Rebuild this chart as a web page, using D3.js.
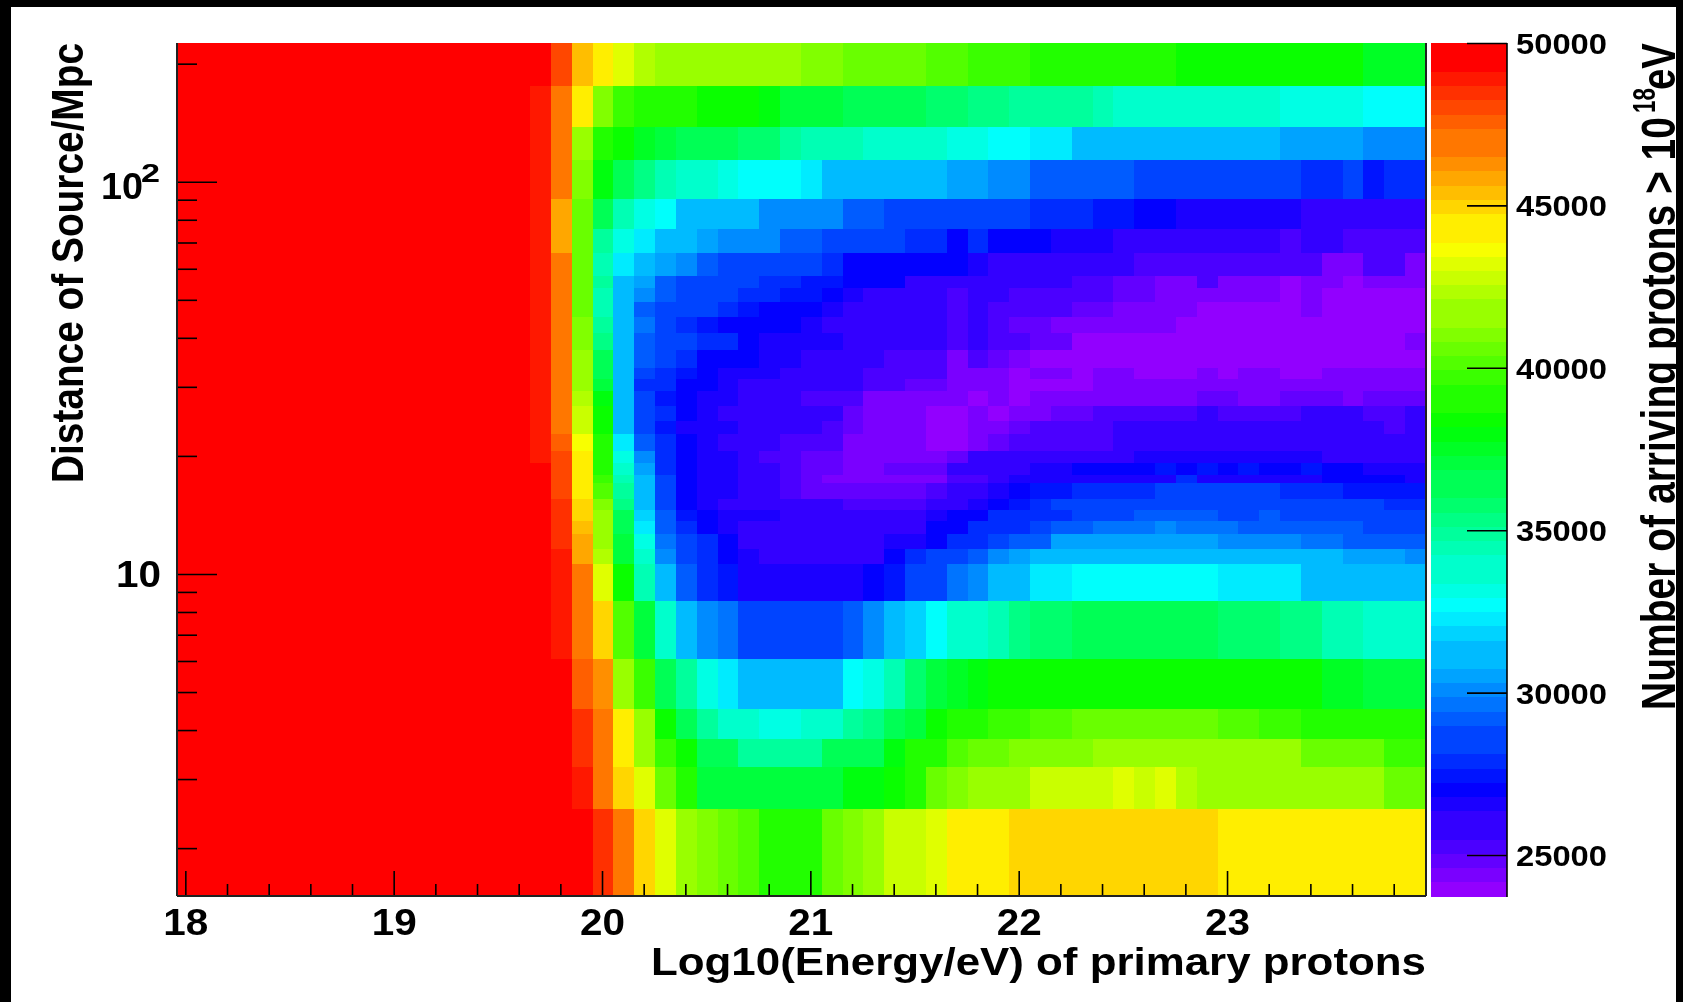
<!DOCTYPE html>
<html>
<head>
<meta charset="utf-8">
<title>Arriving protons</title>
<script src="https://cdnjs.cloudflare.com/ajax/libs/d3/7.8.5/d3.min.js"></script>
<style>
html, body { margin: 0; padding: 0; background: #000; }
svg { display: block; filter: blur(0.5px); }
text { font-family: "Liberation Sans", Arial, sans-serif; font-weight: bold; fill: #000; }
</style>
</head>
<body>
<div id="chart"></div>
<script>
// row edges in Mpc, top of the plot to the bottom
const distanceEdges = [225.8, 175.4, 137.8, 113.6, 90.3, 75.8, 65.8, 57.5, 53.6, 49.4, 45.2, 41.2, 37.2, 33.5, 31.4, 29.3, 26.8, 24.5,
    22.75, 20.6, 19.2, 17.9, 17.06, 15.5, 14.56, 13.65, 12.65, 11.58, 10.6, 8.53, 6.07, 4.53, 3.80, 3.22, 2.52, 1.51];

// how many columns on the left of each row are saturated at 50 (thousand)
const saturatedCols = [18, 17, 17, 17, 17, 17, 17, 17, 17, 17, 17, 17, 17, 17, 17, 17, 17, 17, 17, 17,
    18, 18, 18, 18, 18, 18, 18, 18, 18, 18, 19, 19, 19, 19, 20];

// my hue-to-count reading came out about 300 too high against the colour bar
const readingOffset = -0.3;

// arriving protons in thousands, continuing after the saturated columns
const arrivingKilo = [
    [48.3,45.6,44.8,43.5,42.8,42.3,42.3,41.9,41.9,41.9,41.9,41.9,41.5,41.5,40.8,40.8,40.8,40.8,40.4,40.4,40.0,40.0,40.0,39.3,39.3,39.3,39.3,39.3,39.3,39.3,38.8,38.8,38.8,38.8,38.8,38.7,38.7,38.7,38.7,37.9,37.9,37.9],
    [49.0,47.2,44.2,41.2,40.0,39.3,39.3,39.3,38.8,38.5,38.5,38.3,37.5,37.5,37.5,36.8,36.8,36.8,36.8,36.1,36.1,35.5,35.5,35.1,35.1,35.1,35.1,34.8,34.0,34.0,34.0,34.0,34.0,34.0,34.0,34.0,33.3,33.3,33.3,33.3,32.9,32.9,32.9],
    [49.0,47.2,42.3,39.7,38.5,37.8,37.4,37.1,37.1,36.6,36.1,36.1,35.2,34.8,34.8,34.8,34.0,34.0,34.0,34.0,33.3,33.4,32.9,32.9,32.4,32.4,31.8,31.8,31.8,31.3,31.3,31.3,31.3,31.3,31.3,31.3,30.8,30.8,30.8,30.8,30.2,30.2,30.2],
    [49.0,46.8,41.5,38.2,37.1,35.6,34.8,34.0,34.0,33.3,32.9,32.9,32.9,32.4,31.8,31.8,31.3,31.3,31.3,31.3,30.8,30.8,30.2,30.2,29.7,29.7,29.7,29.7,29.4,28.8,28.8,28.8,28.8,28.8,28.8,28.8,28.8,28.4,28.4,28.8,27.7,28.1,28.1],
    [49.0,46.0,40.8,36.4,34.8,33.6,32.9,31.8,31.8,31.1,31.1,30.4,30.4,30.2,30.2,29.7,29.7,29.2,29.2,28.8,28.8,29.0,29.0,29.0,28.4,28.4,28.4,27.7,27.7,27.3,27.3,26.8,26.8,26.8,26.8,26.8,26.8,26.3,26.3,26.3,26.3,26.3,26.3],
    [49.0,46.0,40.8,35.2,33.6,32.4,31.3,31.3,30.8,30.2,30.2,30.2,29.4,29.4,28.8,28.8,28.8,28.8,28.3,28.3,27.3,28.0,27.3,27.3,27.3,26.8,26.8,26.8,26.3,26.3,26.3,26.3,26.3,26.3,26.3,26.3,25.6,26.3,26.3,25.7,25.7,25.7,25.7],
    [49.0,46.8,40.8,34.8,32.4,31.3,30.8,30.2,29.7,29.2,29.2,28.8,28.8,28.8,28.0,27.5,27.5,27.5,27.3,27.3,27.3,27.0,26.4,26.4,26.4,26.4,26.4,26.4,26.4,25.7,25.7,25.7,25.4,25.4,25.4,25.4,25.4,25.4,24.7,24.7,25.4,25.4,24.7],
    [49.0,46.8,40.8,35.2,31.8,30.8,29.7,29.2,29.2,28.8,28.8,28.1,28.1,27.7,27.7,27.3,27.3,27.3,26.6,26.6,26.0,26.3,26.3,26.3,26.3,26.3,25.6,25.6,25.1,25.1,24.6,24.6,25.4,24.7,24.7,24.7,24.2,24.9,24.9,24.4,24.7,24.7,24.7],
    [49.0,46.8,40.8,34.6,31.3,30.2,29.4,28.8,28.8,28.8,28.0,28.0,27.7,27.7,27.3,26.8,26.4,26.3,26.1,26.1,25.6,26.2,26.2,25.7,25.7,25.4,25.4,25.4,25.0,25.0,24.9,24.9,24.7,24.5,24.5,24.5,24.2,24.7,24.3,24.3,24.3,24.3,24.3],
    [49.0,46.8,40.8,34.6,31.3,29.7,29.2,28.8,28.8,28.1,27.7,27.3,27.3,27.3,27.0,26.6,26.0,26.1,26.0,26.0,25.6,26.2,25.6,25.6,25.4,25.4,25.1,25.1,24.9,24.9,24.6,24.6,24.3,24.3,24.3,24.3,24.3,24.6,24.3,24.3,24.3,24.3,24.3],
    [49.0,47.2,41.5,35.2,31.3,30.1,28.8,28.4,27.7,27.3,27.3,27.3,27.3,27.0,26.6,26.4,26.1,26.1,26.1,26.1,25.4,26.1,25.6,25.0,25.0,24.9,24.9,24.5,24.5,24.5,24.5,24.1,24.1,24.1,24.1,24.1,24.1,24.1,24.1,24.1,24.1,24.1,24.1],
    [49.0,47.2,41.5,35.6,31.3,29.4,29.0,28.8,28.1,28.0,27.3,26.9,26.9,26.8,26.8,26.3,26.3,26.3,25.9,25.9,25.4,26.1,25.4,25.4,25.0,25.0,24.1,24.4,24.1,24.1,24.1,24.1,24.1,24.1,24.1,24.1,24.1,24.1,24.1,24.1,24.1,24.1,24.5],
    [49.0,47.2,41.9,36.9,31.3,29.4,28.8,28.4,27.3,27.3,27.3,26.8,26.8,26.6,26.6,26.3,26.0,25.7,25.7,25.4,24.9,25.4,25.1,24.5,24.3,24.3,24.1,24.1,24.1,24.1,24.1,24.1,24.1,24.1,24.1,24.1,24.1,24.4,24.4,24.4,24.4,24.1,24.4],
    [49.0,47.2,41.9,37.1,31.3,29.2,28.4,27.6,27.3,27.0,26.8,26.8,26.6,26.6,26.3,26.0,25.7,25.7,25.4,25.4,24.9,24.9,24.7,24.4,24.7,24.7,24.1,24.7,24.7,24.3,24.3,24.3,24.7,24.3,24.7,24.7,24.1,24.1,24.5,24.5,24.5,24.5,24.5],
    [49.0,47.2,41.9,37.5,31.3,28.4,28.4,27.3,27.3,27.0,26.6,26.6,26.6,26.3,26.3,25.8,25.4,25.4,25.1,25.1,24.7,24.9,24.7,24.3,24.3,24.3,24.1,24.5,24.5,24.5,24.5,24.5,24.5,24.5,24.5,24.5,24.5,24.5,24.5,24.5,24.5,24.5,24.7],
    [49.0,47.4,42.6,38.1,31.3,29.2,27.7,27.3,27.0,27.0,26.6,26.6,26.6,25.7,25.7,25.4,24.7,24.7,24.7,24.5,24.7,24.4,24.7,24.1,24.7,24.7,24.7,24.7,24.7,24.9,24.9,24.9,25.2,25.2,24.9,24.9,25.2,25.2,25.2,24.7,25.0,25.0,25.1],
    [49.0,47.5,43.0,38.5,31.3,29.2,28.1,27.3,27.0,26.4,26.4,26.4,26.3,26.3,26.0,25.1,24.9,24.5,24.5,24.4,24.3,24.5,24.3,24.7,24.9,25.1,25.1,25.4,25.4,25.4,25.6,25.6,25.9,25.4,25.4,25.7,25.7,26.1,25.9,25.9,25.4,25.4,26.0],
    [49.0,47.5,43.0,38.5,31.3,29.2,27.7,27.0,26.8,26.8,26.3,26.3,26.0,26.0,25.4,25.2,24.7,24.7,24.7,24.1,24.3,24.6,24.7,25.0,25.4,25.4,25.6,25.6,26.2,26.2,26.2,26.2,26.2,26.2,26.2,26.2,26.2,26.2,26.2,25.9,26.3,25.7,26.1],
    [49.0,47.9,44.0,39.3,32.7,29.7,28.1,27.3,27.0,26.6,26.6,26.1,25.7,25.7,25.4,24.9,24.5,24.5,24.5,24.1,24.3,24.9,25.2,25.4,25.6,25.7,25.7,25.7,26.3,26.3,26.3,26.3,26.3,26.3,26.3,26.3,26.3,26.3,26.3,26.3,26.3,26.3,26.3],
    [49.0,48.4,44.2,39.3,33.5,30.2,28.1,27.3,26.9,26.9,26.4,25.5,25.7,25.1,25.1,24.9,24.7,24.7,24.7,24.6,25.0,26.0,25.9,26.0,26.6,26.6,26.6,26.6,26.6,26.8,26.8,26.8,26.8,26.8,26.8,26.8,26.8,26.8,26.3,26.3,26.3,26.3,26.3],
    [48.4,44.6,39.7,34.0,30.8,28.0,27.3,26.9,26.9,26.4,26.4,25.7,25.2,25.0,24.7,24.7,25.0,25.0,25.0,26.0,26.6,26.4,26.4,26.8,26.8,27.3,27.3,27.3,27.3,27.9,27.3,27.9,27.3,27.9,27.3,27.3,27.9,27.3,27.3,26.8,26.8,26.8],
    [48.4,44.6,40.0,34.6,31.3,28.8,27.3,26.9,26.9,26.6,26.6,25.7,25.2,24.9,24.9,24.9,24.9,24.9,24.9,25.7,25.7,26.1,26.8,26.8,26.8,26.8,26.8,27.0,27.0,27.0,28.1,27.1,27.1,27.1,27.1,27.1,27.1,27.3,27.3,27.3,27.3,27.0],
    [48.4,44.6,40.4,35.2,31.5,29.0,27.5,26.9,26.9,26.6,26.6,25.7,25.2,25.2,25.2,25.2,25.2,25.2,25.5,26.3,26.3,26.8,27.3,27.9,27.9,28.3,28.3,28.3,28.3,28.7,28.7,28.7,28.7,28.7,28.7,28.3,28.3,28.3,27.7,27.7,27.7,27.7],
    [48.9,45.1,41.5,35.6,31.8,29.2,27.3,27.0,26.6,26.6,26.6,26.0,26.0,26.0,25.7,25.7,25.7,25.7,26.3,26.6,27.0,27.3,27.7,28.3,28.7,28.7,28.7,28.7,28.7,28.7,28.7,28.7,28.7,28.7,28.7,28.7,28.7,28.7,28.7,28.7,28.0,28.0],
    [48.9,45.1,41.9,36.5,32.0,29.4,27.8,27.3,26.8,26.8,26.8,26.4,26.4,26.4,26.4,26.4,26.4,26.3,26.8,27.3,27.3,28.0,28.0,28.3,28.3,28.7,28.7,28.7,29.5,29.5,29.5,29.5,29.2,29.2,29.5,29.2,28.8,28.8,28.8,28.8,28.8,28.8],
    [48.9,45.7,42.3,36.9,32.4,29.5,28.4,27.3,26.8,26.6,26.6,26.4,26.4,26.4,26.4,26.6,26.6,26.6,27.3,27.3,28.0,28.4,28.4,28.8,29.7,29.7,30.1,30.1,30.1,30.5,30.1,30.1,30.1,29.5,29.5,29.5,29.5,29.5,29.5,29.2,29.2,28.8],
    [48.9,46.0,42.4,37.2,33.3,30.0,29.2,28.1,27.3,26.6,26.6,26.6,26.6,26.6,26.6,26.6,27.0,26.9,27.3,28.0,28.4,28.8,29.5,29.5,30.8,31.0,31.0,31.0,31.0,31.0,31.0,31.0,30.6,30.6,30.6,30.6,30.1,30.1,29.5,29.5,29.5,29.5],
    [49.3,46.0,42.6,37.6,34.3,30.2,29.2,28.1,27.3,27.0,26.6,26.6,26.6,26.6,26.6,26.6,27.3,28.0,29.0,29.0,29.7,30.2,30.8,31.4,31.4,31.4,31.9,31.9,31.9,31.9,31.9,31.9,31.3,31.3,31.3,31.3,31.3,31.3,30.8,30.8,30.8,30.4],
    [49.3,46.8,43.5,38.5,34.8,31.4,29.5,28.4,27.7,26.9,26.9,26.8,26.8,26.8,27.0,27.3,27.9,29.0,29.0,30.1,30.6,31.3,31.3,32.4,32.4,32.9,32.9,32.9,32.9,32.9,32.9,32.9,32.4,32.4,32.4,32.4,31.8,31.8,31.8,31.4,31.4,31.4],
    [49.0,47.0,45.1,40.4,37.5,34.1,31.8,30.6,29.8,28.8,28.8,28.8,28.8,28.8,29.4,30.2,31.1,32.0,32.9,34.0,34.0,34.7,35.6,36.0,36.0,37.0,37.0,37.0,37.0,37.0,37.0,37.0,36.0,36.0,36.0,35.6,35.6,34.8,34.8,34.4,34.0,34.0],
    [48.0,46.5,42.3,40.2,36.9,35.2,33.3,32.4,31.3,31.3,31.3,31.3,31.8,32.9,33.3,34.8,36.1,37.2,37.9,38.2,38.5,38.6,38.9,38.9,38.9,38.9,38.9,38.9,38.9,38.9,38.9,38.9,38.5,38.5,38.5,38.5,37.9,37.9,37.5,37.5,37.5],
    [48.8,47.0,44.2,41.9,38.6,37.1,35.2,34.0,34.0,33.3,33.3,34.0,34.0,35.2,35.6,36.8,37.5,38.8,39.3,39.7,40.0,40.0,40.4,40.4,41.1,41.1,41.1,41.1,41.1,40.8,40.8,40.4,40.4,40.0,40.0,39.7,39.7,39.3,39.3,39.3,39.3],
    [48.8,47.0,44.6,42.3,40.0,38.5,37.1,36.8,35.4,35.4,35.4,35.4,36.9,37.1,37.1,38.2,39.3,39.7,40.4,41.1,41.1,41.5,41.5,41.5,41.5,41.9,41.9,41.6,41.6,41.6,41.6,41.6,41.6,41.6,41.6,40.8,40.8,40.8,40.8,40.0,40.0],
    [49.0,47.6,45.1,43.6,41.1,39.3,37.2,37.2,37.2,37.2,37.2,37.2,37.2,38.4,38.4,38.9,39.7,40.8,41.5,41.9,42.3,42.3,42.9,42.9,42.9,42.9,43.6,42.9,43.5,42.8,42.3,42.3,42.3,42.3,41.9,41.9,41.9,41.9,41.9,41.1,41.1],
    [48.8,47.2,45.1,43.5,42.3,41.5,40.8,40.4,39.3,39.7,39.7,41.1,41.5,42.3,42.9,43.1,43.7,44.3,44.6,44.6,45.1,45.1,45.1,45.1,45.1,45.1,45.1,45.1,45.1,45.1,44.6,44.6,44.6,44.6,44.6,44.6,44.2,44.2,44.2,44.2]
];

const xMajorTicks = [18, 19, 20, 21, 22, 23];
const xMinorTicks = [18.2, 18.4, 18.6, 18.8, 19.2, 19.4, 19.6, 19.8, 20.2, 20.4, 20.6, 20.8, 21.2, 21.4, 21.6, 21.8, 22.2, 22.4, 22.6, 22.8, 23.2, 23.4, 23.6, 23.8];
const yMajorTicks = [10, 100];
const yMinorTicks = [2, 3, 4, 5, 6, 7, 8, 9, 20, 30, 40, 50, 60, 70, 80, 90, 200];
const zTicks = [25000, 30000, 35000, 40000, 45000, 50000];

const W = 1683, H = 1002;
const plot = { left: 177, right: 1426, top: 43, bottom: 896 };
const bar = { left: 1431, right: 1507 };
const binStart = 17.955, binWidth = 0.1, zMin = 23738, zMax = 50000, nContours = 60;

const x = d3.scaleLinear().domain([17.96, 23.955]).range([plot.left, plot.right]);
const y = d3.scaleLog().domain([1.51, 225.8]).range([plot.bottom, plot.top]);
const z = d3.scaleLinear().domain([zMin, zMax]).range([plot.bottom, plot.top]);

// ROOT rainbow: 60 contour levels on 50 hues, so every 6th level repeats a colour
const levelColors = d3.range(nContours).map(t => d3.hsl(5.6 * (t - Math.ceil(t / 6)), 1, 0.5).formatHex()).reverse();
const color = d3.scaleQuantize().domain([zMin, zMax]).range(levelColors);

const svg = d3.select("#chart").append("svg").attr("width", W).attr("height", H);

svg.append("rect").attr("width", W).attr("height", H).attr("fill", "#000");
svg.append("rect").attr("x", 11).attr("y", 7).attr("width", 1665).attr("height", H - 7).attr("fill", "#fff");

svg.append("clipPath").attr("id", "plot-clip").append("rect")
    .attr("x", plot.left).attr("y", plot.top)
    .attr("width", plot.right - plot.left).attr("height", plot.bottom - plot.top);

const cells = [];
arrivingKilo.forEach((row, r) => {
    d3.range(saturatedCols[r]).forEach(k => cells.push({ r, k, v: 50000 }));
    row.forEach((v, i) => cells.push({ r, k: saturatedCols[r] + i, v: (v + readingOffset) * 1000 }));
});

svg.append("g").attr("clip-path", "url(#plot-clip)").attr("shape-rendering", "crispEdges")
    .selectAll("rect").data(cells).enter().append("rect")
    .attr("x", d => x(binStart + d.k * binWidth))
    .attr("width", d => x(binStart + (d.k + 1) * binWidth) - x(binStart + d.k * binWidth))
    .attr("y", d => y(distanceEdges[d.r]))
    .attr("height", d => y(distanceEdges[d.r + 1]) - y(distanceEdges[d.r]))
    .attr("fill", d => color(Math.min(d.v, zMax - 1)));

// x axis, ticks point into the plot
const xMajor = svg.append("g").attr("transform", `translate(0,${plot.bottom})`)
    .call(d3.axisBottom(x).tickValues(xMajorTicks).tickSize(-25).tickFormat(d3.format("d")));
xMajor.selectAll("text").attr("y", 39).attr("dy", 0).attr("font-size", 36)
    .attr("textLength", 45).attr("lengthAdjust", "spacingAndGlyphs");
svg.append("g").attr("transform", `translate(0,${plot.bottom})`)
    .call(d3.axisBottom(x).tickValues(xMinorTicks).tickSize(-12).tickFormat(""));

// y axis
const yMajor = svg.append("g").attr("transform", `translate(${plot.left},0)`)
    .call(d3.axisLeft(y).tickValues(yMajorTicks).tickSize(-40).tickFormat(() => "10"));
yMajor.selectAll("text").attr("x", d => d === 100 ? -34 : -16).attr("dy", d => d === 100 ? 17 : 13)
    .attr("font-size", 36).attr("textLength", d => d === 100 ? 42 : 45).attr("lengthAdjust", "spacingAndGlyphs");
yMajor.selectAll(".tick").filter(d => d === 100).append("text")
    .attr("x", -36).attr("y", 0).attr("text-anchor", "start").attr("font-size", 25)
    .attr("textLength", 19).attr("lengthAdjust", "spacingAndGlyphs").text("2");
svg.append("g").attr("transform", `translate(${plot.left},0)`)
    .call(d3.axisLeft(y).tickValues(yMinorTicks).tickSize(-20).tickFormat(""));

svg.selectAll(".domain").remove();
svg.selectAll(".tick line").attr("stroke", "#000").attr("stroke-width", 1.6);

// frame
const frame = [
    [plot.left, plot.top, plot.left, plot.bottom],
    [plot.left, plot.bottom, plot.right, plot.bottom],
    [plot.right, plot.top, plot.right, plot.bottom]
];
svg.append("g").selectAll("line").data(frame).enter().append("line")
    .attr("x1", d => d[0]).attr("y1", d => d[1]).attr("x2", d => d[2]).attr("y2", d => d[3])
    .attr("stroke", "#222").attr("stroke-width", 2);

// palette
const barLevels = d3.range(nContours).map(i => zMin + (i + 0.5) * (zMax - zMin) / nContours);
svg.append("g").attr("shape-rendering", "crispEdges").selectAll("rect").data(barLevels).enter().append("rect")
    .attr("x", bar.left).attr("width", bar.right - bar.left)
    .attr("y", d => z(d + (zMax - zMin) / nContours / 2))
    .attr("height", (plot.bottom - plot.top) / nContours + 0.5)
    .attr("fill", d => color(d));

const zAxis = svg.append("g").attr("transform", `translate(${bar.right},0)`)
    .call(d3.axisRight(z).tickValues(zTicks).tickSize(-40).tickFormat(d3.format("d")));
zAxis.select(".domain").remove();
zAxis.selectAll(".tick line").attr("stroke", "#000").attr("stroke-width", 1.6);
zAxis.selectAll("text").attr("x", 9).attr("dy", d => d === 50000 ? 10 : 10.5).attr("font-size", 29)
    .attr("textLength", 91).attr("lengthAdjust", "spacingAndGlyphs");
svg.append("line").attr("x1", bar.right).attr("x2", bar.right).attr("y1", plot.top).attr("y2", plot.bottom + 1)
    .attr("stroke", "#000").attr("stroke-width", 1.6);

// titles
svg.append("text").attr("transform", "translate(651,975)")
    .attr("font-size", 38).attr("textLength", 775).attr("lengthAdjust", "spacingAndGlyphs")
    .text("Log10(Energy/eV) of primary protons");

svg.append("text").attr("transform", "translate(83,483) rotate(-90) scale(1,1.15)")
    .attr("font-size", 38.8).attr("textLength", 440).attr("lengthAdjust", "spacingAndGlyphs")
    .text("Distance of Source/Mpc");

svg.append("text").attr("transform", "translate(1675,710) rotate(-90) scale(1,1.28)")
    .attr("font-size", 38).attr("textLength", 593).attr("lengthAdjust", "spacingAndGlyphs")
    .text("Number of arriving protons > 10");
svg.append("text").attr("transform", "translate(1655,113) rotate(-90) scale(1,1.45)")
    .attr("font-size", 22).attr("textLength", 25).attr("lengthAdjust", "spacingAndGlyphs")
    .text("18");
svg.append("text").attr("transform", "translate(1675,90) rotate(-90) scale(1,1.28)")
    .attr("font-size", 38).attr("textLength", 47).attr("lengthAdjust", "spacingAndGlyphs")
    .text("eV");

// the black picture border cuts the right-hand title
svg.append("rect").attr("x", 1676).attr("y", 0).attr("width", W - 1676).attr("height", H).attr("fill", "#000");
</script>
</body>
</html>
